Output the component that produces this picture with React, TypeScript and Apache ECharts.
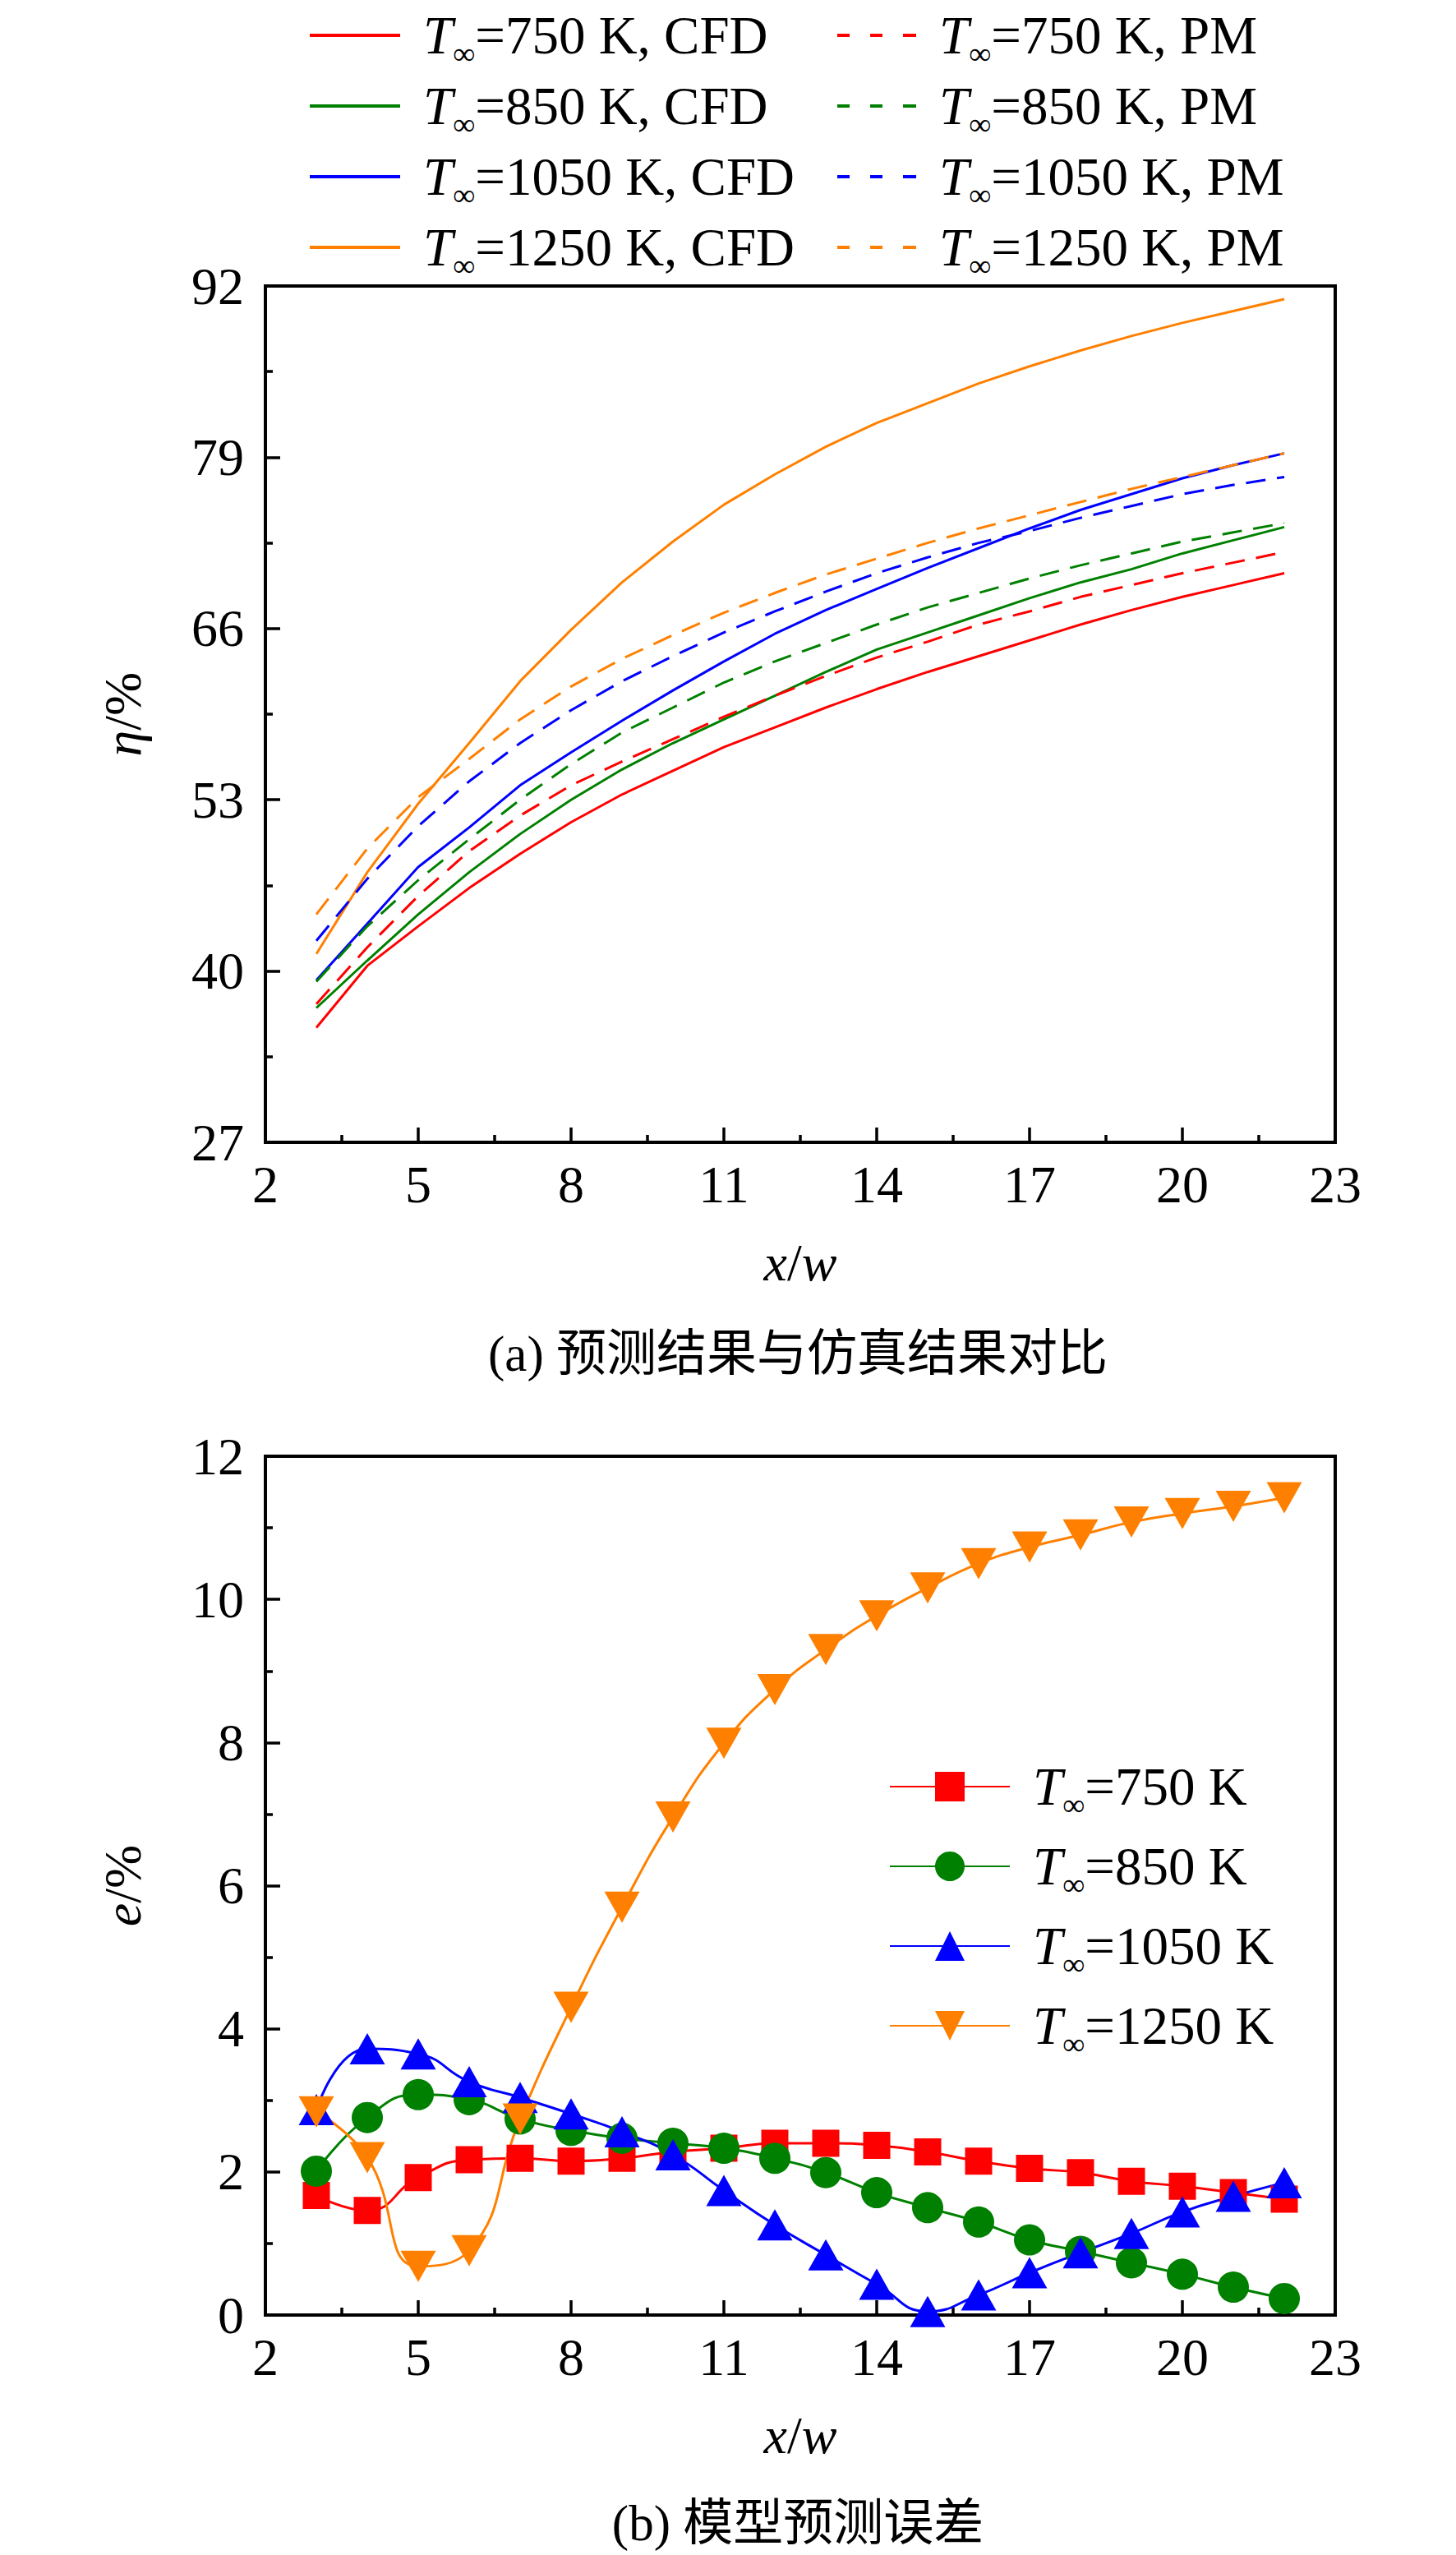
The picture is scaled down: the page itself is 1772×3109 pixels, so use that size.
import React, { useEffect, useRef } from "react";
import * as echarts from "echarts";

// ---------- data ----------
const X_VALUES = [3, 4, 5, 6, 7, 8, 9, 10, 11, 12, 13, 14, 15, 16, 17, 18, 19, 20, 21, 22];
const TEMPS = ["750", "850", "1050", "1250"];
const COLORS = ["#ff0000", "#008000", "#0000ff", "#ff8000"];

// (a) efficiency eta (%) : CFD results
const CFD_750 = [35.7, 40.4, 43.4, 46.3, 48.9, 51.3, 53.4, 55.2, 57.0, 58.5, 60.0, 61.4, 62.7, 63.9, 65.1, 66.3, 67.4, 68.4, 69.3, 70.2];
const CFD_850 = [37.2, 40.8, 44.3, 47.5, 50.4, 53.0, 55.3, 57.3, 59.1, 60.9, 62.7, 64.4, 65.7, 67.0, 68.3, 69.5, 70.5, 71.7, 72.7, 73.7];
const CFD_1050 = [39.3, 43.6, 47.9, 50.9, 54.1, 56.6, 59.0, 61.3, 63.5, 65.6, 67.4, 69.0, 70.6, 72.1, 73.6, 75.0, 76.2, 77.4, 78.4, 79.3];
const CFD_1250 = [41.3, 47.5, 52.7, 57.3, 62.0, 65.9, 69.5, 72.6, 75.4, 77.7, 79.8, 81.6, 83.1, 84.6, 85.9, 87.1, 88.2, 89.2, 90.1, 91.0];
// (a) efficiency eta (%) : prediction model
const PM_750 = [37.5, 41.8, 45.7, 49.1, 51.8, 54.1, 55.9, 57.6, 59.3, 60.9, 62.4, 63.8, 65.0, 66.3, 67.3, 68.4, 69.3, 70.2, 71.0, 71.8];
const PM_850 = [39.2, 43.4, 46.9, 50.0, 53.0, 55.7, 58.1, 60.0, 61.9, 63.5, 64.9, 66.3, 67.6, 68.7, 69.8, 70.8, 71.7, 72.6, 73.3, 74.0];
const PM_1050 = [42.3, 47.0, 51.0, 54.4, 57.3, 59.8, 62.0, 63.9, 65.7, 67.3, 68.8, 70.2, 71.4, 72.5, 73.4, 74.4, 75.3, 76.2, 76.9, 77.5];
const PM_1250 = [44.3, 49.3, 53.2, 56.1, 59.1, 61.6, 63.7, 65.5, 67.2, 68.7, 70.1, 71.3, 72.5, 73.6, 74.6, 75.6, 76.6, 77.5, 78.4, 79.3];

// (b) prediction error e (%)
const ERR_750 = [1.67, 1.46, 1.92, 2.17, 2.19, 2.15, 2.19, 2.28, 2.33, 2.4, 2.4, 2.37, 2.28, 2.15, 2.05, 1.99, 1.87, 1.8, 1.71, 1.62];
const ERR_850 = [2.01, 2.76, 3.08, 3.01, 2.74, 2.58, 2.47, 2.4, 2.33, 2.19, 1.99, 1.71, 1.5, 1.3, 1.05, 0.89, 0.73, 0.57, 0.39, 0.23];
const ERR_1050 = [2.87, 3.72, 3.65, 3.26, 3.04, 2.81, 2.56, 2.24, 1.74, 1.26, 0.84, 0.43, 0.05, 0.28, 0.59, 0.87, 1.14, 1.44, 1.66, 1.85];
const ERR_1250 = [2.84, 2.2, 0.68, 0.9, 2.74, 4.3, 5.7, 6.96, 7.99, 8.74, 9.3, 9.77, 10.16, 10.5, 10.73, 10.9, 11.08, 11.2, 11.3, 11.42];

// axes
const X_MIN = 2, X_MAX = 23, X_STEP = 3;
const Y1_MIN = 27, Y1_MAX = 92, Y1_STEP = 13;
const Y2_MIN = 0, Y2_MAX = 12, Y2_STEP = 2;

const CAPTION_A = "(a) 预测结果与仿真结果对比";
const CAPTION_B = "(b) 模型预测误差";

// ---------- styling ----------
const FF = "'Liberation Serif', 'Times New Roman', Times, serif";
const FF_CJK = "'Liberation Serif', 'Times New Roman', 'Noto Sans CJK SC', serif";
const FS = 64;
const LFS = 65;

const legendRich = {
  i: { fontFamily: FF, fontSize: LFS, fontStyle: "italic", lineHeight: 60, padding: [0, 0, 0, 23], color: "#000" },
  s: { fontFamily: FF, fontSize: 38, lineHeight: 10, padding: [44, 0, 0, 0], color: "#000" },
  n: { fontFamily: FF, fontSize: LFS, lineHeight: 60, color: "#000" },
};
const legendFormatter = (name: string) => `{i|T}{s|∞}{n|${name.split("∞")[1]}}`;

const nameRich = {
  i: { fontFamily: FF, fontSize: FS, fontStyle: "italic", lineHeight: 64, color: "#000" },
  n: { fontFamily: FF, fontSize: FS, lineHeight: 64, color: "#000" },
};

const pairs = (ys: number[]) => X_VALUES.map((x, i) => [x, ys[i]]);

const axisBase = (gridIndex: number) => ({
  gridIndex,
  type: "value",
  axisLine: { show: true, onZero: false, lineStyle: { color: "#000", width: 4 } },
  axisTick: { show: true, inside: true, length: 18, lineStyle: { color: "#000", width: 3.5 } },
  minorTick: { show: true, splitNumber: 2, length: 9, lineStyle: { color: "#000", width: 3.5 } },
  splitLine: { show: false },
  minorSplitLine: { show: false },
});

const xAxisFor = (gridIndex: number) => ({
  ...axisBase(gridIndex),
  min: X_MIN,
  max: X_MAX,
  interval: X_STEP,
  axisLabel: { color: "#000", fontFamily: FF, fontSize: FS, lineHeight: 64, margin: 19 },
  name: "{i|x}{n|/}{i|w}",
  nameLocation: "middle",
  nameGap: 114,
  nameTextStyle: { fontFamily: FF, fontSize: FS, color: "#000", rich: nameRich },
});

const yAxisFor = (gridIndex: number, min: number, max: number, step: number, sym: string) => ({
  ...axisBase(gridIndex),
  min,
  max,
  interval: step,
  axisLabel: { color: "#000", fontFamily: FF, fontSize: FS, margin: 26 },
  name: `{i|${sym}}{n|/%}`,
  nameLocation: "middle",
  nameGap: 142,
  nameTextStyle: { fontFamily: FF, fontSize: FS, color: "#000", rich: nameRich },
});

export default function App() {
  const ref = useRef<HTMLDivElement>(null);

  useEffect(() => {
    document.body.style.margin = "0";
    if (!ref.current) return;
    const chart = echarts.init(ref.current, undefined, { renderer: "svg" });

    const cfdData = [CFD_750, CFD_850, CFD_1050, CFD_1250];
    const pmData = [PM_750, PM_850, PM_1050, PM_1250];
    const errData = [ERR_750, ERR_850, ERR_1050, ERR_1250];
    const cfdNames = TEMPS.map((t) => `T∞=${t} K, CFD`);
    const pmNames = TEMPS.map((t) => `T∞=${t} K, PM`);
    const errNames = TEMPS.map((t) => `T∞=${t} K`);
    const errSymbols = ["rect", "circle", "triangle", "path://M0,0L2,0L1,1.8Z"];
    const errSizes: any[] = [33, 38, [43, 38], [43, 38]];

    const series: any[] = [];
    cfdData.forEach((d, k) =>
      series.push({
        type: "line",
        name: cfdNames[k],
        xAxisIndex: 0,
        yAxisIndex: 0,
        data: pairs(d),
        symbol: "none",
        showSymbol: false,
        color: COLORS[k],
        lineStyle: { color: COLORS[k], width: 3, type: "solid" },
        silent: true,
      })
    );
    pmData.forEach((d, k) =>
      series.push({
        type: "line",
        name: pmNames[k],
        xAxisIndex: 0,
        yAxisIndex: 0,
        data: pairs(d),
        symbol: "none",
        showSymbol: false,
        color: COLORS[k],
        lineStyle: { color: COLORS[k], width: 3, type: [24, 14] },
        silent: true,
      })
    );
    errData.forEach((d, k) =>
      series.push({
        type: "line",
        name: errNames[k],
        xAxisIndex: 1,
        yAxisIndex: 1,
        data: pairs(d),
        smooth: true,
        symbol: errSymbols[k],
        symbolSize: errSizes[k],
        showSymbol: true,
        showAllSymbol: true,
        color: COLORS[k],
        itemStyle: { color: COLORS[k] },
        lineStyle: { color: COLORS[k], width: 3 },
        silent: true,
      })
    );

    const legendCommon = {
      orient: "vertical",
      padding: 0,
      selectedMode: false,
      formatter: legendFormatter,
      textStyle: { fontFamily: FF, fontSize: LFS, color: "#000", rich: legendRich },
    };

    chart.setOption({
      animation: false,
      backgroundColor: "#fff",
      grid: [
        { left: 323, top: 348, width: 1302, height: 1042, show: true, borderColor: "#000", borderWidth: 4, backgroundColor: "transparent" },
        { left: 323, top: 1772, width: 1302, height: 1045, show: true, borderColor: "#000", borderWidth: 4, backgroundColor: "transparent" },
      ],
      xAxis: [xAxisFor(0), xAxisFor(1)],
      yAxis: [
        yAxisFor(0, Y1_MIN, Y1_MAX, Y1_STEP, "η"),
        yAxisFor(1, Y2_MIN, Y2_MAX, Y2_STEP, "e"),
      ],
      legend: [
        { ...legendCommon, left: 377, top: 2, itemWidth: 110, itemHeight: 4, itemGap: 4, icon: "rect", data: cfdNames },
        {
          ...legendCommon,
          left: 1019,
          top: 2,
          itemWidth: 96,
          itemHeight: 4,
          itemGap: 4,
          icon: "path://M0,0h15v4h-15z M40,0h15v4h-15z M80,0h16v4h-16z",
          data: pmNames,
        },
        { ...legendCommon, left: 1082, top: 2133, itemWidth: 146, itemHeight: 45, itemGap: 15, data: errNames },
      ],
      graphic: [
        {
          type: "text",
          x: 971,
          y: 1647,
          silent: true,
          style: { text: CAPTION_A, fontFamily: FF_CJK, fontSize: 61, fill: "#000", align: "center", verticalAlign: "middle" },
        },
        {
          type: "text",
          x: 971,
          y: 3070,
          silent: true,
          style: { text: CAPTION_B, fontFamily: FF_CJK, fontSize: 61, fill: "#000", align: "center", verticalAlign: "middle" },
        },
      ],
      series,
    });

    return () => chart.dispose();
  }, []);

  return <div ref={ref} style={{ width: 1772, height: 3109 }} />;
}
